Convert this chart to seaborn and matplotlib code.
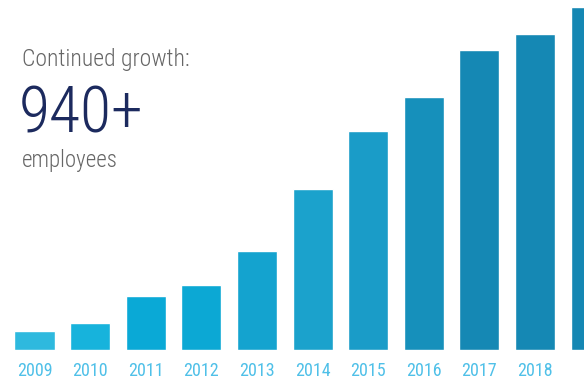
import matplotlib
matplotlib.use("Agg")
import matplotlib.pyplot as plt
from matplotlib import font_manager
import seaborn as sns

# datos del gráfico
years = ["2009", "2010", "2011", "2012", "2013", "2014", "2015", "2016", "2017", "2018", "2019"]
employees = [52, 74, 148, 178, 271, 441, 600, 693, 822, 866, 940]
bar_colors = ["#2eb9de", "#17b3dc", "#0aa9d6", "#0ca8d4", "#14a3cf", "#1ba2cc",
              "#1a9cc8", "#1690bb", "#1588b4", "#1588b4", "#1587b3"]

sns.set_style("white")

# busco una fuente estrecha instalada
installed = {f.name for f in font_manager.fontManager.ttflist}
narrow = [n for n in ["Roboto Condensed", "Liberation Sans Narrow", "DejaVu Sans Condensed",
                      "Open Sans Condensed", "Noto Sans Condensed"] if n in installed]
plt.rcParams['font.family'] = narrow + ['DejaVu Sans']
plt.rcParams['font.stretch'] = 'condensed'

fig = plt.figure(figsize=(5.84, 3.79), dpi=100)
ax = fig.add_axes([0, 29 / 379, 1, 350 / 379])

sns.barplot(x=years, y=employees, hue=years, palette=bar_colors, legend=False,
            width=0.72, saturation=1, ax=ax)

ax.set_xlim(-0.62, 9.88)
ax.set_ylim(0, 959)
ax.set_yticks([])
ax.tick_params(axis="x", length=0, pad=9, labelsize=13, labelcolor="#4fc0e8")
sns.despine(ax=ax, left=True, bottom=True)

# textos de la izquierda
fig.text(22 / 584, 1 - 66 / 379, "Continued growth:", fontsize=17, color="#666666",
         fontweight="light")
fig.text(19 / 584, 1 - 133 / 379, "940+", fontsize=46, color="#1c2a5e", fontweight="light")
fig.text(22 / 584, 1 - 167 / 379, "employees", fontsize=16.5, color="#666666",
         fontweight="light")

fig.savefig("out.png", dpi=100)
